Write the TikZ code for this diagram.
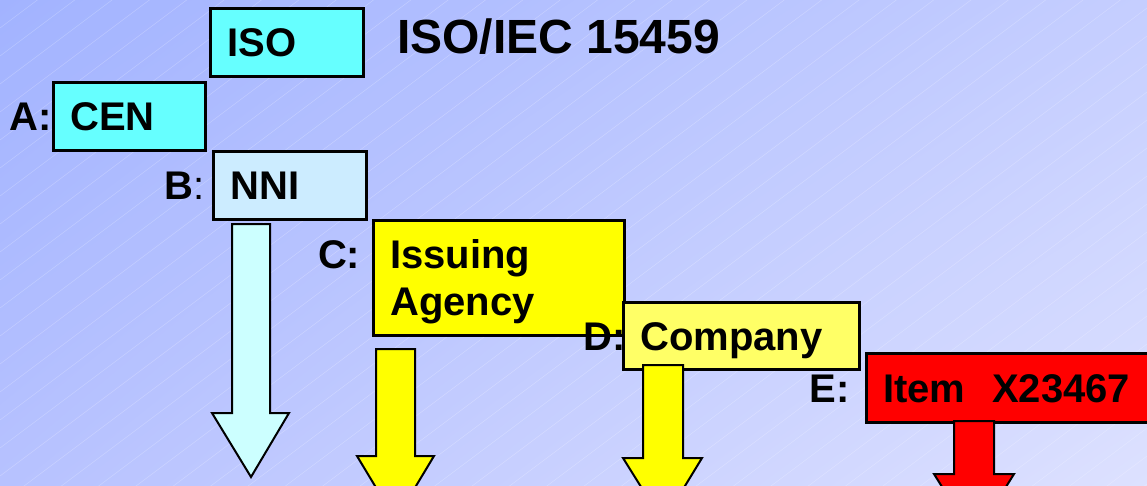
\documentclass[tikz,border=0pt]{standalone}
\usepackage{fontspec}
\setmainfont{Liberation Sans}
\usetikzlibrary{positioning, shadings}

\definecolor{bgtl}{RGB}{162,179,255}
\definecolor{bgtr}{RGB}{197,206,255}
\definecolor{bgbl}{RGB}{183,194,255}
\definecolor{bgbr}{RGB}{221,225,255}
\definecolor{orgcyan}{RGB}{102,255,255}
\definecolor{nniblue}{RGB}{204,236,255}
\definecolor{paleyan}{RGB}{204,255,255}
\definecolor{orgyellow}{RGB}{255,255,0}
\definecolor{paleyellow}{RGB}{255,255,102}
\definecolor{itemred}{RGB}{255,0,0}

\begin{document}
\begin{tikzpicture}[x=1pt, y=-1pt,
    hatch/.style={white, opacity=0.25, line width=0.5pt},
    box/.style={draw, line width=2.5pt, anchor=north west, inner xsep=17pt, inner ysep=0pt,
        align=left, font=\fontsize{40}{47}\selectfont\bfseries, text height=29pt, text depth=0pt},
    tag/.style={inner sep=0pt, anchor=base east, font=\fontsize{40}{47}\selectfont\bfseries},
    blockarrow/.style={draw, line width=2pt, line join=miter}
]
\clip (0, 0) rectangle (1147, 485);
\shade[upper left=bgtl, upper right=bgtr, lower left=bgbl, lower right=bgbr]
    (0, 0) rectangle (1147, 485);
\foreach \b in {0, 28, ..., 1372}
    \draw[hatch] (0, \b) -- (1147, {\b - 860});

% organisations
\node[box, fill=orgcyan, text width=119pt, minimum height=68pt] (iso) at (209, 7) {ISO};
\node[box, fill=orgcyan, text width=118pt, minimum height=68pt] (cen) at (52, 81) {CEN};
\node[box, fill=nniblue, text width=119pt, minimum height=68pt] (nni) at (212, 150) {NNI};
\node[box, fill=orgyellow, text width=217pt, minimum height=115pt, text depth=47pt] (agency) at (372, 219) {Issuing\\Agency};
\node[box, fill=paleyellow, text width=202pt, minimum height=67pt] (company) at (622, 301) {Company};
\node[box, fill=itemred, text width=266pt, minimum height=69pt] (item) at (865, 352) {Item\ \ X23467};

\node[inner sep=0pt, anchor=base west, font=\fontsize{48}{56}\selectfont\bfseries] (title) at (397, 53) {ISO/IEC 15459};

% arrows
\draw[blockarrow, fill=paleyan]
    (232, 224) -- (270, 224) -- (270, 413) -- (289, 413) -- (251, 477) -- (212, 413) -- (232, 413) -- cycle;
\draw[blockarrow, fill=orgyellow]
    (376, 349) -- (415, 349) -- (415, 456) -- (434, 456) -- (395.5, 520) -- (357, 456) -- (376, 456) -- cycle;
\draw[blockarrow, fill=orgyellow]
    (643, 365) -- (683, 365) -- (683, 458) -- (702, 458) -- (663, 522) -- (623, 458) -- (643, 458) -- cycle;
\draw[blockarrow, fill=itemred]
    (954, 421) -- (994, 421) -- (994, 474) -- (1014, 474) -- (974, 538) -- (934, 474) -- (954, 474) -- cycle;

% level tags
\node[tag] (taga) at (cen.west |- cen.text) {A:};
\node[tag, xshift=-7pt] (tagb) at (nni.west |- nni.text) {B{\mdseries:}};
\node[tag, xshift=-11.5pt] (tagc) at (agency.west |- agency.text) {C:};
\node[tag, xshift=4pt] (tagd) at (company.west |- company.text) {D:};
\node[tag, xshift=-15pt] (tage) at (item.west |- item.text) {E:};
\end{tikzpicture}
\end{document}
